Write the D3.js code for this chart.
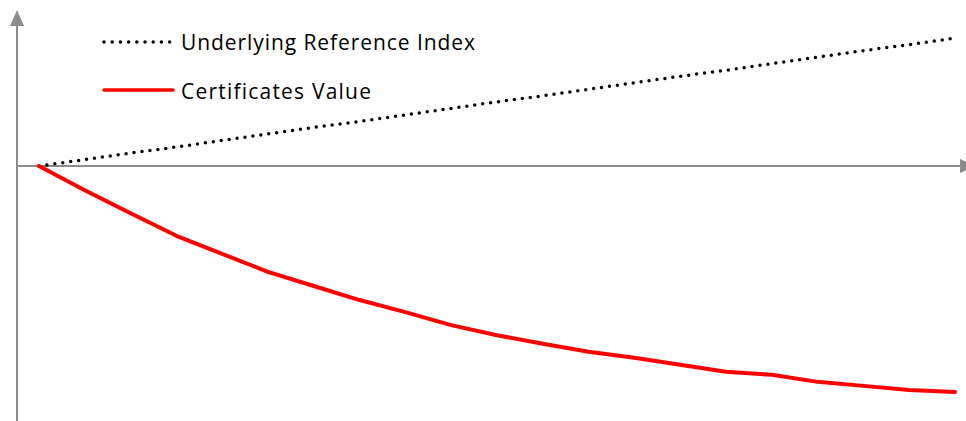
<!DOCTYPE html>
<html>
<head>
<meta charset="utf-8">
<script src="https://cdn.jsdelivr.net/npm/d3@7"></script>
<style>
  html, body { margin: 0; padding: 0; background: #fff; }
  svg { display: block; }
</style>
</head>
<body>
<svg id="chart" width="966" height="421"></svg>
<script>
// data (percent change vs. start)
const periods = [0, 1, 2, 3, 4, 5, 6, 7, 8, 9, 10, 11, 12, 13, 14, 15, 16, 17, 18, 19, 20];
const indexValues = [0, 1.3, 2.6, 3.8, 5.1, 6.4, 7.7, 8.9, 10.2, 11.5, 12.8, 14.0, 15.3, 16.6, 17.9, 19.1, 20.4, 21.7, 23.0, 24.2, 25.5];
const certValues = [0, -4.8, -9.4, -13.9, -17.5, -21.1, -23.9, -26.7, -29.1, -31.7, -33.7, -35.4, -37.0, -38.2, -39.6, -41.0, -41.6, -43.0, -43.8, -44.6, -45.0];
const seriesNames = ["Underlying Reference Index", "Certificates Value"];

const svg = d3.select("#chart");
const axisColor = "#8c8c8c";

const x = d3.scaleLinear().domain([0, 20]).range([39, 955]);
const y = d3.scaleLinear().domain([-50.8, 30.9]).range([421, 11]);

// axes with arrow heads
const y0 = y(0);
svg.append("line")
  .attr("x1", 17).attr("x2", 17)
  .attr("y1", 421).attr("y2", 24)
  .attr("stroke", axisColor).attr("stroke-width", 2);
svg.append("path")
  .attr("d", "M10,26 L17,10 L24,26 Z")
  .attr("fill", axisColor);

svg.append("line")
  .attr("x1", 17).attr("x2", 960)
  .attr("y1", y0).attr("y2", y0)
  .attr("stroke", axisColor).attr("stroke-width", 2);
svg.append("path")
  .attr("d", `M960,${y0 - 7} L975,${y0} L960,${y0 + 7} Z`)
  .attr("fill", axisColor);

const line = d3.line()
  .x((d, i) => x(periods[i]))
  .y(d => y(d));

// index line (dotted)
svg.append("path")
  .datum(indexValues)
  .attr("d", line)
  .attr("fill", "none")
  .attr("stroke", "#000")
  .attr("stroke-width", 3.5)
  .attr("stroke-linecap", "round")
  .attr("stroke-dasharray", "0 8");

// certificates value (red)
svg.append("path")
  .datum(certValues)
  .attr("d", line)
  .attr("fill", "none")
  .attr("stroke", "#ff0000")
  .attr("stroke-width", 4)
  .attr("stroke-linejoin", "round")
  .attr("stroke-linecap", "round");

// legend
const legend = svg.append("g");
legend.append("line")
  .attr("x1", 104).attr("x2", 170)
  .attr("y1", 42).attr("y2", 42)
  .attr("stroke", "#000").attr("stroke-width", 3.5)
  .attr("stroke-linecap", "round")
  .attr("stroke-dasharray", "0 8.2");
legend.append("line")
  .attr("x1", 104).attr("x2", 173)
  .attr("y1", 90).attr("y2", 90)
  .attr("stroke", "#ff0000").attr("stroke-width", 3.5)
  .attr("stroke-linecap", "round");

legend.selectAll("text")
  .data(seriesNames)
  .join("text")
  .attr("x", 181)
  .attr("y", (d, i) => [50, 99][i])
  .attr("textLength", (d, i) => [294, 190][i])
  .attr("lengthAdjust", "spacing")
  .style("font-family", "'Open Sans', sans-serif")
  .style("font-size", "21px")
  .style("font-variant-ligatures", "none")
  .style("fill", "#000")
  .text(d => d);
</script>
</body>
</html>
